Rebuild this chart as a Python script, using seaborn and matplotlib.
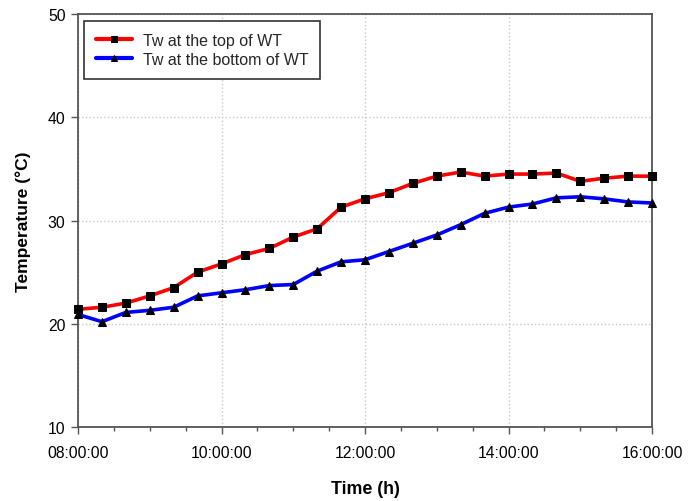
import numpy as np
import pandas as pd
import matplotlib.pyplot as plt
import seaborn as sns

# Water temperature readings every 20 minutes, 08:00 -> 16:00
hours = [8 + i / 3 for i in range(25)]
tw_top = [21.4, 21.6, 22.0, 22.7, 23.5, 25.0, 25.8, 26.7, 27.3, 28.4, 29.2, 31.3, 32.1,
          32.7, 33.6, 34.3, 34.7, 34.3, 34.5, 34.5, 34.6, 33.8, 34.1, 34.3, 34.3]
tw_bottom = [20.9, 20.2, 21.1, 21.3, 21.6, 22.7, 23.0, 23.3, 23.7, 23.8, 25.1, 26.0, 26.2,
             27.0, 27.8, 28.6, 29.6, 30.7, 31.3, 31.6, 32.2, 32.3, 32.1, 31.8, 31.7]
series_names = ['Tw at the top of WT', 'Tw at the bottom of WT']
xtick_vals = [8, 10, 12, 14, 16]
xtick_labels = ['08:00:00', '10:00:00', '12:00:00', '14:00:00', '16:00:00']
ytick_vals = [10, 20, 30, 40, 50]

sns.set_theme(style="ticks")
plt.rcParams['font.family'] = ['Liberation Sans', 'DejaVu Sans']

df = pd.DataFrame({
    'hour': hours * 2,
    'temp': tw_top + tw_bottom,
    'series': [series_names[0]] * len(hours) + [series_names[1]] * len(hours),
})

fig = plt.figure(figsize=(6.91, 5.02), dpi=100)
ax = fig.add_axes([0.1129, 0.1474, 0.8307, 0.8226])

sns.lineplot(data=df, x='hour', y='temp', hue='series', style='series',
             palette=['#ff0000', '#0000ff'], markers=['s', '^'], dashes=False,
             linewidth=2.6, markersize=5.5, markerfacecolor='black',
             markeredgecolor='black', clip_on=False, ax=ax)

ax.set_xlim(8, 16)
ax.set_ylim(10, 50)
ax.set_xticks(xtick_vals)
ax.set_xticklabels(xtick_labels)
ax.set_xticks(np.arange(8, 16.01, 0.5), minor=True)
ax.set_yticks(ytick_vals)
ax.tick_params(axis='both', which='major', direction='out', length=5, width=1,
               color='#555555', labelcolor='black', labelsize=11.3)
ax.tick_params(axis='x', which='major', pad=8)
ax.tick_params(axis='y', which='major', pad=4)
ax.tick_params(axis='x', which='minor', direction='out', length=3, width=1, color='#555555')
ax.grid(True, which='major', linestyle=':', color='#c8c8c8', linewidth=1)
for s in ax.spines.values():
    s.set_color('#555555')
    s.set_linewidth(1.3)
    s.set_zorder(1)

ax.set_xlabel('Time (h)', fontsize=12.8, fontweight='bold', labelpad=14, color='black')
ax.set_ylabel('Temperature (\u00b0C)', fontsize=12.5, fontweight='bold', labelpad=12, color='black')

leg = ax.legend(loc='upper left', bbox_to_anchor=(0.011, 0.983), borderaxespad=0,
                fontsize=11.5, frameon=True, fancybox=False, handlelength=2.25,
                borderpad=0.75, labelspacing=0.22, handletextpad=0.65, markerscale=0.8)
leg.get_frame().set_edgecolor('#333333')
leg.get_frame().set_linewidth(1.2)
leg.get_frame().set_alpha(1)
for line in leg.get_lines():
    line.set_linewidth(3)

fig.savefig('out.png', dpi=100)
